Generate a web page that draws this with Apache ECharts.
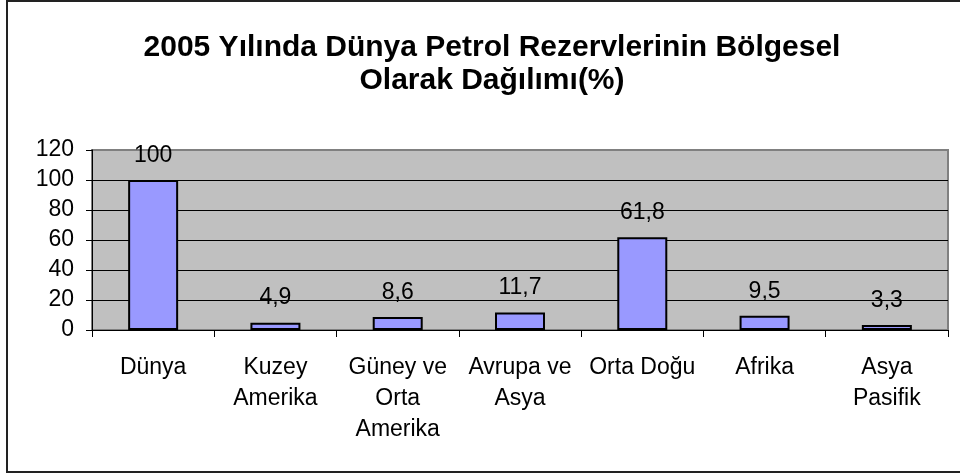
<!DOCTYPE html>
<html>
<head>
<meta charset="utf-8">
<script src="https://cdn.jsdelivr.net/npm/echarts@6/dist/echarts.min.js"></script>
<style>
html,body{margin:0;padding:0;background:#fff;}
#chart{width:960px;height:475px;}
</style>
</head>
<body>
<div id="chart"></div>
<script>
const titleLines = ['2005 Yılında Dünya Petrol Rezervlerinin Bölgesel', 'Olarak Dağılımı(%)'];
const categories = ['Dünya', 'Kuzey\nAmerika', 'Güney ve\nOrta\nAmerika', 'Avrupa ve\nAsya', 'Orta Doğu', 'Afrika', 'Asya\nPasifik'];
const values = [100, 4.9, 8.6, 11.7, 61.8, 9.5, 3.3];
const yMin = 0, yMax = 120, yInterval = 20;

const FONT = '"Liberation Sans", Arial, sans-serif';
const chart = echarts.init(document.getElementById('chart'), null, {renderer: 'canvas'});
chart.setOption({
  animation: false,
  backgroundColor: '#ffffff',
  title: {
    text: titleLines.join('\n'),
    left: 487,
    textAlign: 'center',
    top: 26,
    textStyle: {fontFamily: FONT, fontWeight: 'bold', fontSize: 30, color: '#000', lineHeight: 33}
  },
  graphic: [{
    type: 'rect',
    shape: {x: 7, y: 1, width: 960, height: 471},
    style: {fill: 'none', stroke: '#222', lineWidth: 2},
    silent: true, z: 100
  }],
  grid: {
    left: 92, right: 12, top: 150, bottom: 145,
    show: true, backgroundColor: '#C0C0C0', borderColor: '#808080', borderWidth: 2
  },
  xAxis: {
    type: 'category',
    data: categories,
    axisLine: {lineStyle: {color: '#000', width: 1}},
    axisTick: {show: true, length: 7, lineStyle: {color: '#000'}},
    axisLabel: {fontFamily: FONT, fontSize: 23, color: '#000', margin: 22, lineHeight: 31, interval: 0}
  },
  yAxis: {
    type: 'value',
    min: yMin, max: yMax, interval: yInterval,
    axisLine: {show: true, lineStyle: {color: '#000', width: 1}},
    axisTick: {show: true, length: 6, lineStyle: {color: '#000'}},
    axisLabel: {fontFamily: FONT, fontSize: 23, color: '#000', margin: 18},
    splitLine: {show: true, lineStyle: {color: ['#000','#000','#000','#000','#000','#000','#808080'], width: 1}}
  },
  series: [{
    type: 'bar',
    data: values,
    barWidth: 50,
    itemStyle: {color: '#9999FF', borderColor: '#000', borderWidth: 2},
    label: {
      show: true, position: 'top', distance: 13,
      fontFamily: FONT, fontSize: 23, color: '#000',
      formatter: p => String(p.value).replace('.', ',')
    }
  }]
});
</script>
</body>
</html>
